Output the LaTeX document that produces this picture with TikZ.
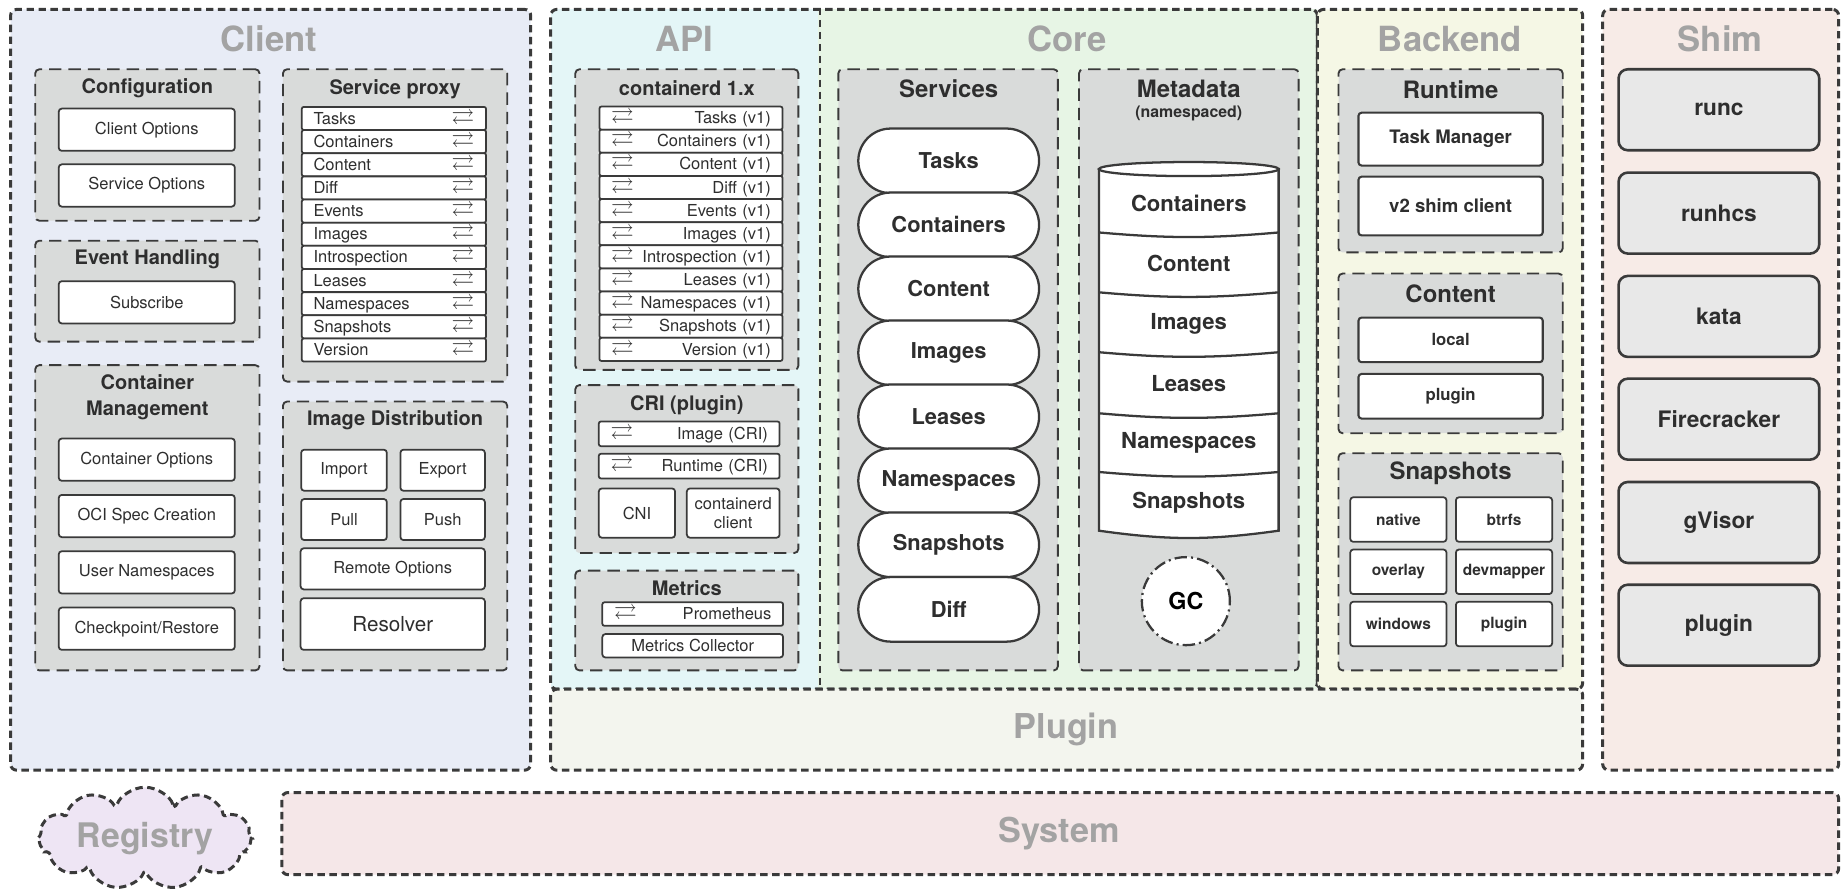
\documentclass[tikz,border=0pt]{standalone}
\usepackage{fontspec}
\setmainfont{TeX Gyre Heros}
\usepackage{amssymb}
\usetikzlibrary{fit,shapes.symbols}

\definecolor{linec}{HTML}{3A3A3A}
\definecolor{txtc}{HTML}{2E2E2E}
\definecolor{ttlc}{HTML}{A3A3A3}
\definecolor{grpfill}{HTML}{D9DBDA}
\definecolor{clientfill}{HTML}{E8ECF6}
\definecolor{apifill}{HTML}{E4F6F7}
\definecolor{corefill}{HTML}{E7F5E5}
\definecolor{backfill}{HTML}{F5F7E5}
\definecolor{plugfill}{HTML}{F3F5EE}
\definecolor{shimfill}{HTML}{F7EBE7}
\definecolor{sysfill}{HTML}{F5E7E8}
\definecolor{regfill}{HTML}{EEE5F4}
\definecolor{shimboxc}{HTML}{E8E8E8}

\newcommand{\rlarr}{{\fontsize{11}{11}\selectfont$\rightleftarrows$}}

\tikzset{
  layer/.style={draw=linec, line width=1.45pt, dash pattern=on 3.6pt off 2.2pt, rounded corners=3pt, inner sep=0pt},
  grp/.style={draw=linec, fill=grpfill, line width=0.9pt, dash pattern=on 6pt off 3.4pt, rounded corners=2pt, inner sep=0pt},
  ttl/.style={text=ttlc, font=\fontsize{16.8}{18}\selectfont\bfseries},
  lowttl/.style={text=ttlc, font=\fontsize{16.6}{18}\selectfont\bfseries},
  grpttl/.style={text=txtc, font=\fontsize{9.7}{12.5}\selectfont\bfseries, align=center},
  bigttl/.style={grpttl, font=\fontsize{11.6}{13}\selectfont\bfseries},
  box/.style={draw=linec, fill=white, line width=0.85pt, rounded corners=1.5pt, inner sep=0pt, text=txtc, font=\fontsize{8}{9.5}\selectfont, align=center},
  opt/.style={box, minimum width=3cm, minimum height=0.72cm},
  row/.style={box, rounded corners=1pt, minimum height=0.394cm, inner xsep=0.2cm, text width=2.74cm},
  bebox/.style={box, line width=1pt, font=\fontsize{9}{11}\selectfont\bfseries, minimum width=3.14cm},
  snap/.style={box, font=\fontsize{7.5}{9}\selectfont\bfseries, minimum width=1.64cm, minimum height=0.76cm},
  pill/.style={draw=linec, fill=white, line width=1.1pt, minimum width=3.08cm, minimum height=1.1cm, rounded corners=0.55cm, text=txtc, font=\fontsize{10.6}{12}\selectfont\bfseries},
  mdtext/.style={text=txtc, font=\fontsize{10.7}{12}\selectfont\bfseries},
  shimbox/.style={draw=linec, fill=shimboxc, line width=1.25pt, rounded corners=4.5pt, minimum width=3.42cm, minimum height=1.38cm, text=txtc, font=\fontsize{11}{13}\selectfont\bfseries},
  cylline/.style={draw=linec, line width=1.1pt},
}

\begin{document}
\begin{tikzpicture}[x=0.02cm, y=-0.02cm]
\useasboundingbox (0,0) rectangle (1568,759);

\node[layer, fill=clientfill, fit={(9,8) (452,656)}] (client) {};
\node[layer, draw=none, rounded corners=0pt, fill=apifill, fit={(469,8) (697,587)}] (api) {};
\node[layer, draw=none, rounded corners=0pt, fill=corefill, fit={(697,8) (1122,587)}] (core) {};
\draw[draw=linec, line width=0.9pt, dash pattern=on 3.6pt off 2.2pt] (api.north east) -- (api.south east);
\node[layer, fit={(469,8) (1122,587)}] (apicore) {};
\node[layer, fill=backfill, fit={(1122,8) (1348,587)}] (backend) {};
\node[layer, fill=plugfill, fit={(469,587) (1348,656)}] (plugin) {};
\node[layer, fill=shimfill, fit={(1365,8) (1566,656)}] (shim) {};
\node[layer, fill=sysfill, fit={(240,675) (1566,745)}] (system) {};
\node[layer, cloud, cloud puffs=11, cloud ignores aspect, fill=regfill, minimum width=3.6cm, minimum height=1.74cm, text=ttlc, font=\fontsize{16.4}{18}\selectfont\bfseries] (registry) at (123.5,714) {Registry};

\node[ttl] (clientttl) at (229,33) {Client};
\node[ttl] (apittl) at (583,33) {API};
\node[ttl] (corettl) at (909,33) {Core};
\node[ttl] (backendttl) at (1235,33) {Backend};
\node[ttl] (shimttl) at (1465,33) {Shim};
\node[lowttl] (pluginttl) at (908,621) {Plugin};
\node[lowttl] (systemttl) at (902,710) {System};

\node[grp, fit={(30,59) (221,188)}] (config) {};
\node[grpttl] (configttl) at (125.5,75) {Configuration};
\node[opt] (clientopt) at (125,110.5) {Client Options};
\node[opt] (serviceopt) at (125,158) {Service Options};

\node[grp, fit={(30,205) (221,291)}] (events) {};
\node[grpttl] (eventsttl) at (125.5,221) {Event Handling};
\node[opt] (subscribe) at (125,257.5) {Subscribe};

\node[grp, fit={(30,311) (221,571)}] (ctrmgmt) {};
\node[grpttl] (ctrmgmtttl) at (125.5,338) {Container\\Management};
\node[opt] (ctropt) at (125,391.5) {Container Options};
\node[opt] (ocispec) at (125,439.5) {OCI Spec Creation};
\node[opt] (userns) at (125,487.5) {User Namespaces};
\node[opt] (ckpt) at (125,535.5) {Checkpoint/Restore};

\node[grp, fit={(241,59) (432,325)}] (proxy) {};
\node[grpttl] (proxyttl) at (336.5,76) {Service proxy};
\node[row] (pxtasks) at (335.5,100.9) {Tasks\hfill\rlarr};
\node[row] (pxcontainers) at (335.5,120.6) {Containers\hfill\rlarr};
\node[row] (pxcontent) at (335.5,140.3) {Content\hfill\rlarr};
\node[row] (pxdiff) at (335.5,160.1) {Diff\hfill\rlarr};
\node[row] (pxevents) at (335.5,179.8) {Events\hfill\rlarr};
\node[row] (pximages) at (335.5,199.5) {Images\hfill\rlarr};
\node[row] (pxintro) at (335.5,219.2) {Introspection\hfill\rlarr};
\node[row] (pxleases) at (335.5,238.9) {Leases\hfill\rlarr};
\node[row] (pxns) at (335.5,258.7) {Namespaces\hfill\rlarr};
\node[row] (pxsnap) at (335.5,278.4) {Snapshots\hfill\rlarr};
\node[row] (pxversion) at (335.5,298.1) {Version\hfill\rlarr};

\node[grp, fit={(241,342) (432,571)}] (imgdist) {};
\node[grpttl] (imgdistttl) at (336.5,358) {Image Distribution};
\node[box, minimum width=1.46cm, minimum height=0.7cm] (import) at (293,400.5) {Import};
\node[box, minimum width=1.44cm, minimum height=0.7cm] (export) at (377,400.5) {Export};
\node[box, minimum width=1.46cm, minimum height=0.7cm] (pull) at (293,442.5) {Pull};
\node[box, minimum width=1.44cm, minimum height=0.7cm] (push) at (377,442.5) {Push};
\node[box, minimum width=3.14cm, minimum height=0.7cm] (remoteopt) at (334.5,484.5) {Remote Options};
\node[box, minimum width=3.14cm, minimum height=0.88cm, font=\fontsize{10}{12}\selectfont] (resolver) at (334.5,531.5) {Resolver};

\node[grp, fit={(490,59) (680,315)}] (ctrd) {};
\node[grpttl] (ctrdttl) at (585,75) {containerd 1.x};
\node[row, text width=2.72cm] (v1tasks) at (588.5,100.6) {\rlarr\hfill Tasks (v1)};
\node[row, text width=2.72cm] (v1containers) at (588.5,120.3) {\rlarr\hfill Containers (v1)};
\node[row, text width=2.72cm] (v1content) at (588.5,140) {\rlarr\hfill Content (v1)};
\node[row, text width=2.72cm] (v1diff) at (588.5,159.7) {\rlarr\hfill Diff (v1)};
\node[row, text width=2.72cm] (v1events) at (588.5,179.4) {\rlarr\hfill Events (v1)};
\node[row, text width=2.72cm] (v1images) at (588.5,199.1) {\rlarr\hfill Images (v1)};
\node[row, text width=2.72cm] (v1intro) at (588.5,218.8) {\rlarr\hfill Introspection (v1)};
\node[row, text width=2.72cm] (v1leases) at (588.5,238.5) {\rlarr\hfill Leases (v1)};
\node[row, text width=2.72cm] (v1ns) at (588.5,258.2) {\rlarr\hfill Namespaces (v1)};
\node[row, text width=2.72cm] (v1snap) at (588.5,277.9) {\rlarr\hfill Snapshots (v1)};
\node[row, text width=2.72cm] (v1version) at (588.5,297.6) {\rlarr\hfill Version (v1)};

\node[grp, fit={(490,328) (680,471)}] (cri) {};
\node[grpttl] (crittl) at (585,345) {CRI (plugin)};
\node[row, text width=2.68cm, minimum height=0.42cm] (imgcri) at (587,369.5) {\rlarr\hfill Image (CRI)};
\node[row, text width=2.68cm, minimum height=0.42cm] (runcri) at (587,397) {\rlarr\hfill Runtime (CRI)};
\node[box, minimum width=1.3cm, minimum height=0.84cm] (cni) at (542.5,437) {CNI};
\node[box, minimum width=1.58cm, minimum height=0.84cm] (ctrdclient) at (624.5,437) {containerd\\client};

\node[grp, fit={(490,486) (680,571)}] (metrics) {};
\node[grpttl] (metricsttl) at (585,501) {Metrics};
\node[row, text width=2.68cm, minimum height=0.4cm] (prom) at (590,523) {\rlarr\hfill Prometheus};
\node[box, minimum width=3.08cm, minimum height=0.4cm] (collector) at (590,550) {Metrics Collector};

\node[grp, fit={(714,59) (901,571)}] (services) {};
\node[bigttl] (servicesttl) at (808,76) {Services};
\node[pill] (svtasks) at (808,137) {Tasks};
\node[pill] (svcontainers) at (808,191.5) {Containers};
\node[pill] (svcontent) at (808,246) {Content};
\node[pill] (svimages) at (808,300.5) {Images};
\node[pill] (svleases) at (808,355) {Leases};
\node[pill] (svns) at (808,409.5) {Namespaces};
\node[pill] (svsnap) at (808,464) {Snapshots};
\node[pill] (svdiff) at (808,519) {Diff};

\node[grp, fit={(919,59) (1106,571)}] (metadata) {};
\node[bigttl] (metadatattl) at (1012.5,76) {Metadata};
\node[text=txtc, font=\fontsize{7.7}{9}\selectfont\bfseries] (nsttl) at (1012.5,97) {(namespaced)};
\draw[cylline, fill=white] (936,144) -- (936,452) to[bend right=8] (1089,452) -- (1089,144) -- cycle;
\draw[cylline, fill=white] (1012.5,144) ellipse[x radius=1.53cm, y radius=0.12cm];
\draw[cylline] (936,198) to[bend right=5] (1089,198);
\draw[cylline] (936,249) to[bend right=5] (1089,249);
\draw[cylline] (936,300) to[bend right=5] (1089,300);
\draw[cylline] (936,352) to[bend right=5] (1089,352);
\draw[cylline] (936,402) to[bend right=5] (1089,402);
\node[mdtext] (mdcontainers) at (1012.5,173) {Containers};
\node[mdtext] (mdcontent) at (1012.5,224) {Content};
\node[mdtext] (mdimages) at (1012.5,275.5) {Images};
\node[mdtext] (mdleases) at (1012.5,326.5) {Leases};
\node[mdtext] (mdns) at (1012.5,377.5) {Namespaces};
\node[mdtext] (mdsnap) at (1012.5,428.5) {Snapshots};
\node[circle, draw=linec, fill=white, line width=1.1pt, dash pattern=on 6pt off 2pt on 1pt off 2pt, minimum size=1.5cm, text=black, font=\fontsize{11.3}{13}\selectfont\bfseries] (gc) at (1010,512) {GC};

\node[grp, fit={(1140,59) (1331,215)}] (runtime) {};
\node[bigttl] (runtimettl) at (1235.5,76) {Runtime};
\node[bebox, minimum height=0.9cm] (taskmgr) at (1235.5,118.5) {Task Manager};
\node[bebox, minimum height=1cm] (shimclient) at (1235.5,175.5) {v2 shim client};

\node[grp, fit={(1140,233) (1331,369)}] (becontent) {};
\node[bigttl] (becontentttl) at (1235.5,250) {Content};
\node[bebox, minimum height=0.76cm, font=\fontsize{8.1}{10}\selectfont\bfseries] (local) at (1235.5,289.5) {local};
\node[bebox, minimum height=0.76cm, font=\fontsize{8.1}{10}\selectfont\bfseries] (ctplugin) at (1235.5,337.5) {plugin};

\node[grp, fit={(1140,386) (1331,571)}] (besnap) {};
\node[bigttl] (besnapttl) at (1235.5,403) {Snapshots};
\node[snap] (native) at (1191,442.5) {native};
\node[snap] (btrfs) at (1281,442.5) {btrfs};
\node[snap] (overlay) at (1191,487) {overlay};
\node[snap] (devmapper) at (1281,487) {devmapper};
\node[snap] (windows) at (1191,531.5) {windows};
\node[snap] (snplugin) at (1281,531.5) {plugin};

\node[shimbox] (runc) at (1464,93.5) {runc};
\node[shimbox] (runhcs) at (1464,181.5) {runhcs};
\node[shimbox] (kata) at (1464,269.5) {kata};
\node[shimbox] (firecracker) at (1464,357) {Firecracker};
\node[shimbox] (gvisor) at (1464,445) {gVisor};
\node[shimbox] (shplugin) at (1464,532.5) {plugin};

\end{tikzpicture}
\end{document}
